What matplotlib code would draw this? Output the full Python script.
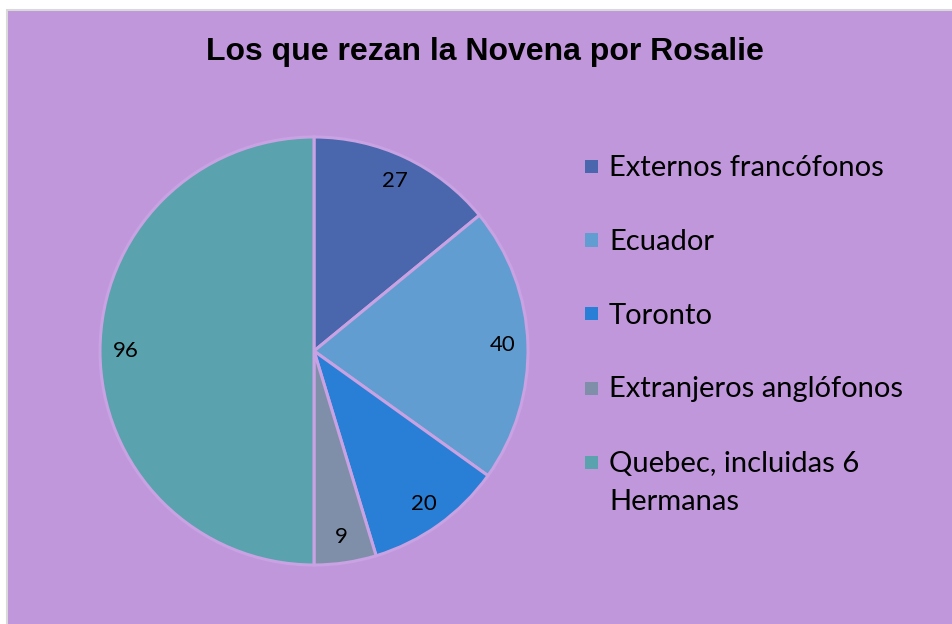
import matplotlib.pyplot as plt
from matplotlib.patches import Rectangle

# data
categories = ["Externos francófonos", "Ecuador", "Toronto",
              "Extranjeros anglófonos", "Quebec, incluidas 6\nHermanas"]
values = [27, 40, 20, 9, 96]
colors = ["#4A66AC", "#629DD1", "#297FD5", "#7F8FA9", "#5AA2AE"]

bg = "#C097DB"
W, H = 952, 624

fig = plt.figure(figsize=(W / 100, H / 100), dpi=100)
fig.patch.set_facecolor("white")

# chart area with thin grey border
fig.patches.append(Rectangle((7 / W, -0.01), 1.0, 1 - 10 / H + 0.01,
                             transform=fig.transFigure, facecolor=bg,
                             edgecolor="#D9D9D9", linewidth=1.5, zorder=-1))

fig.text(485 / W, 1 - 52 / H, "Los que rezan la Novena por Rosalie",
         ha="center", va="center", fontsize=23, fontweight="bold",
         family="Liberation Sans", color="black")

# pie: center (314, 351) px, radius 214 px
cx, cy, r = 314, 351, 214
ax = fig.add_axes([(cx - r) / W, (H - cy - r) / H, 2 * r / W, 2 * r / H])
ax.set_facecolor("none")
total = sum(values)
wedges, _, autotexts = ax.pie(
    values, colors=colors, startangle=90, counterclock=False,
    autopct=lambda p: f"{p * total / 100:.0f}", pctdistance=0.88,
    wedgeprops=dict(edgecolor="#C8A2E2", linewidth=2.2),
    textprops=dict(fontsize=16, family="Lato", color="black"))
ax.set_xlim(-1, 1)
ax.set_ylim(-1, 1)
ax.set_aspect("equal")

# legend drawn by hand so the wrapped label lines up with its marker
row_y = [166.5, 240, 314, 388, 462]
for lab, col, y in zip(categories, colors, row_y):
    fig.patches.append(Rectangle((585 / W, 1 - (y + 6.5) / H), 13 / W, 13 / H,
                                 transform=fig.transFigure, facecolor=col,
                                 edgecolor="none"))
    for i, line in enumerate(lab.split("\n")):
        fig.text(609 / W, 1 - (y + 9.5 + 38 * i) / H, line, ha="left",
                 va="baseline", fontsize=21, family="Lato", color="black")

fig.savefig("out.png", dpi=100, facecolor=fig.get_facecolor())
